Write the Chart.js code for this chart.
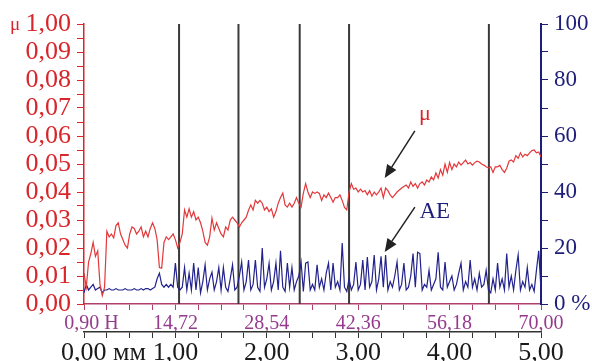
<!DOCTYPE html>
<html>
<head>
<meta charset="utf-8">
<script src="https://cdn.jsdelivr.net/npm/chart.js@4.4.1/dist/chart.umd.min.js"></script>
<style>
  html, body { margin: 0; padding: 0; background: #fff; }
  #chart { display: block; }
</style>
</head>
<body>
<canvas id="chart" width="592" height="361"></canvas>
<script>
// sample spacing along the track, mm
const step = 0.025;

// friction coefficient, one value per sample (0 .. 5 mm)
const mu = [
  0.011, 0.006, 0.015, 0.018, 0.022, 0.017, 0.019, 0.007, 0.003, 0.006,
  0.026, 0.024, 0.025, 0.0236, 0.028, 0.029, 0.025, 0.023, 0.021, 0.020,
  0.025, 0.0275, 0.027, 0.025, 0.026, 0.0275, 0.024, 0.026, 0.024, 0.027,
  0.029, 0.027, 0.023, 0.013, 0.0128, 0.022, 0.024, 0.023, 0.024, 0.025,
  0.023, 0.020, 0.022, 0.025, 0.0336, 0.031, 0.034, 0.031, 0.033, 0.030,
  0.031, 0.029, 0.026, 0.022, 0.021, 0.024, 0.0307, 0.0264, 0.029, 0.027,
  0.025, 0.024, 0.0275, 0.0264, 0.030, 0.031, 0.030, 0.029, 0.0275, 0.029,
  0.030, 0.031, 0.0335, 0.0354, 0.0336, 0.037, 0.036, 0.037, 0.036, 0.0336,
  0.0346, 0.033, 0.034, 0.031, 0.033, 0.036, 0.038, 0.0396, 0.0354, 0.0346,
  0.036, 0.0346, 0.036, 0.038, 0.036, 0.0346, 0.0396, 0.043, 0.040, 0.038,
  0.040, 0.0395, 0.040, 0.0395, 0.037, 0.039, 0.038, 0.0396, 0.038, 0.0364,
  0.038, 0.038, 0.039, 0.037, 0.0345, 0.0336, 0.040, 0.043, 0.041, 0.0414,
  0.040, 0.041, 0.040, 0.0405, 0.039, 0.0405, 0.0385, 0.040, 0.039, 0.040,
  0.0414, 0.038, 0.0414, 0.0405, 0.039, 0.038, 0.039, 0.040, 0.0407, 0.0414,
  0.042, 0.0425, 0.0414, 0.0436, 0.042, 0.043, 0.0414, 0.043, 0.0436, 0.0425,
  0.0443, 0.0436, 0.0454, 0.0443, 0.0468, 0.045, 0.048, 0.046, 0.050, 0.047,
  0.0505, 0.048, 0.050, 0.049, 0.0507, 0.0496, 0.0505, 0.0514, 0.050, 0.0505,
  0.0496, 0.0505, 0.051, 0.0507, 0.050, 0.0496, 0.049, 0.0486, 0.049, 0.047,
  0.049, 0.049, 0.0495, 0.048, 0.047, 0.0485, 0.051, 0.0514, 0.0507, 0.053,
  0.052, 0.054, 0.0525, 0.0535, 0.053, 0.054, 0.0548, 0.055, 0.054, 0.0543,
  0.0525
];

// acoustic emission, %, same samples
const ae = [
  4, 7, 5, 6, 7, 5, 5.5, 6, 4, 5,
  5, 5.5, 5, 5, 5.5, 5, 5, 5, 5.5, 5,
  5, 5, 5.5, 5, 5, 5.5, 5, 5.5, 5.5, 5,
  5.5, 6, 9, 11, 7, 6, 7, 6, 7, 6,
  14.6, 6, 5, 6, 13, 5, 11, 5, 14.6, 5,
  13, 4, 8, 14, 5, 9, 11.4, 5, 8, 13,
  5, 13, 6, 4.5, 9, 14, 5, 6, 10, 15,
  5, 8, 15.7, 5, 7, 15.7, 6, 4.5, 20, 6,
  9, 14.6, 5, 8, 14.6, 5, 19, 6, 4.5, 14.6,
  6, 13, 5, 8, 10, 15, 4.5, 14.6, 15, 5,
  7, 5, 14, 6, 9, 5, 11, 14.6, 5, 14.6,
  6, 8, 5, 21.8, 6, 4.5, 9, 5, 7, 15,
  5, 7, 15.7, 5, 16.8, 6, 8, 17.5, 5, 9,
  17, 6, 17.5, 5, 8, 6, 10, 15, 5, 7,
  14.6, 5, 6, 10, 18, 6, 18.5, 18, 5, 7,
  6, 12, 5, 7, 9, 18.5, 6, 5, 15, 6,
  8, 10, 5, 7, 11, 14.6, 5, 8, 6, 15.7,
  6, 9, 5, 11, 6, 7, 12, 5, 4, 9,
  5, 14.6, 6, 9, 5, 18, 6, 10, 5, 12,
  17.5, 5, 8, 6, 13, 5, 7, 4.5, 12, 19,
  5
];

// positions of the vertical event lines, mm
const marks = [1.04, 1.69, 2.36, 2.90, 4.43];

// tick labels
const muLabels = ['0,00', '0,01', '0,02', '0,03', '0,04', '0,05', '0,06', '0,07', '0,08', '0,09', '1,00'];
const aeLabels = ['0 %', '20', '40', '60', '80', '100'];
const loadLabels = ['   0,90 H', '14,72', '28,54', '42,36', '56,18', '70,00'];
const mmLabels = ['      0,00 мм', '1,00', '2,00', '3,00', '4,00', '5,00'];

const RED = '#d9262b';
const NAVY = '#1d1d7a';
const PURPLE = '#963a8e';
const SERIF = "'Liberation Serif', 'Times New Roman', serif";

const muPoints = mu.map((v, i) => ({ x: i * step, y: v }));
const aePoints = ae.map((v, i) => ({ x: i * step, y: v }));

const markSets = marks.map(m => ({
  data: [{ x: m, y: 0 }, { x: m, y: 0.1 }],
  borderColor: '#3a3a3a',
  borderWidth: 2,
  pointRadius: 0,
  yAxisID: 'y',
  xAxisID: 'x'
}));

// text labels and arrows, given in data units
const notes = {
  muText: { x: 3.73, y: 0.0658 },
  muArrow: { from: [3.62, 0.0618], to: [3.29, 0.0450] },
  aeText: { x: 3.67, y: 0.0307 },
  aeArrow: { from: [3.62, 0.0346], to: [3.29, 0.0186] }
};

function arrow(ctx, x1, y1, x2, y2) {
  const a = Math.atan2(y2 - y1, x2 - x1);
  const len = 13, hw = 5.5;
  const bx = x2 - len * Math.cos(a), by = y2 - len * Math.sin(a);
  ctx.beginPath();
  ctx.moveTo(x1, y1);
  ctx.lineTo(bx, by);
  ctx.stroke();
  ctx.beginPath();
  ctx.moveTo(x2, y2);
  ctx.lineTo(bx + hw * Math.sin(a), by - hw * Math.cos(a));
  ctx.lineTo(bx - hw * Math.sin(a), by + hw * Math.cos(a));
  ctx.closePath();
  ctx.fill();
}

const annotations = {
  id: 'annotations',
  afterDraw(chart) {
    const { ctx, scales } = chart;
    const px = v => scales.x.getPixelForValue(v);
    const py = v => scales.y.getPixelForValue(v);
    ctx.save();
    ctx.strokeStyle = '#222';
    ctx.fillStyle = '#222';
    ctx.lineWidth = 1.5;
    const m = notes.muArrow, e = notes.aeArrow;
    arrow(ctx, px(m.from[0]), py(m.from[1]), px(m.to[0]), py(m.to[1]));
    arrow(ctx, px(e.from[0]), py(e.from[1]), px(e.to[0]), py(e.to[1]));

    ctx.textBaseline = 'alphabetic';
    ctx.fillStyle = RED;
    ctx.font = '22px ' + SERIF;
    ctx.textAlign = 'center';
    ctx.fillText('μ', px(notes.muText.x), py(notes.muText.y));
    ctx.fillStyle = NAVY;
    ctx.font = '23px ' + SERIF;
    ctx.textAlign = 'left';
    ctx.fillText('AE', px(notes.aeText.x), py(notes.aeText.y));

    // axis symbol before the top tick label
    ctx.fillStyle = RED;
    ctx.font = '19px ' + SERIF;
    ctx.fillText('μ', 10, chart.chartArea.top + 6);
    ctx.restore();
  }
};

new Chart(document.getElementById('chart'), {
  type: 'line',
  data: {
    datasets: [
      {
        data: muPoints,
        borderColor: '#e2383a',
        borderWidth: 1.2,
        pointRadius: 0,
        tension: 0,
        xAxisID: 'x',
        yAxisID: 'y'
      },
      {
        data: aePoints,
        borderColor: '#22228c',
        borderWidth: 1.2,
        pointRadius: 0,
        tension: 0,
        xAxisID: 'x',
        yAxisID: 'y2'
      },
      ...markSets
    ]
  },
  options: {
    responsive: false,
    animation: false,
    devicePixelRatio: 1,
    layout: { padding: { top: 24, left: 0, right: 0, bottom: 0 } },
    plugins: { legend: { display: false }, tooltip: { enabled: false } },
    scales: {
      xN: {
        type: 'linear',
        position: 'bottom',
        weight: 0,
        min: 0,
        max: 5,
        afterFit: s => { s.height = 28; },
        grid: { drawOnChartArea: false, tickLength: 6, color: '#b0406e' },
        border: { color: '#b0406e', width: 1.5 },
        ticks: {
          stepSize: 0.25,
          autoSkip: false,
          maxRotation: 0,
          padding: 4,
          color: PURPLE,
          font: { family: SERIF, size: 20, lineHeight: 1 },
          callback: v => Number.isInteger(v) ? loadLabels[v] : ''
        }
      },
      x: {
        type: 'linear',
        position: 'bottom',
        weight: 1,
        min: 0,
        max: 5,
        afterFit: s => { s.height = 29; },
        grid: { drawOnChartArea: false, tickLength: 6, color: '#333' },
        border: { color: '#333', width: 1.5 },
        ticks: {
          stepSize: 0.25,
          autoSkip: false,
          maxRotation: 0,
          padding: 2,
          color: '#1a1a1a',
          font: { family: SERIF, size: 26, lineHeight: 1 },
          callback: v => Number.isInteger(v) ? mmLabels[v] : ''
        }
      },
      y: {
        position: 'left',
        min: 0,
        max: 0.1,
        afterFit: s => { s.width = 84; },
        grid: { drawOnChartArea: false, tickLength: 7, color: RED },
        border: { color: RED, width: 1.5 },
        ticks: {
          stepSize: 0.005,
          autoSkip: false,
          padding: 6,
          color: RED,
          font: { family: SERIF, size: 26, lineHeight: 1 },
          callback: v => {
            const k = Math.round(v * 200);
            return k % 2 === 0 ? muLabels[k / 2] : '';
          }
        }
      },
      y2: {
        position: 'right',
        min: 0,
        max: 100,
        afterFit: s => { s.width = 51; },
        grid: { drawOnChartArea: false, tickLength: 7, color: NAVY },
        border: { color: NAVY, width: 2 },
        ticks: {
          stepSize: 10,
          autoSkip: false,
          padding: 6,
          color: NAVY,
          font: { family: SERIF, size: 23, lineHeight: 1 },
          callback: v => v % 20 === 0 ? aeLabels[v / 20] : ''
        }
      }
    }
  },
  plugins: [annotations]
});
</script>
</body>
</html>
